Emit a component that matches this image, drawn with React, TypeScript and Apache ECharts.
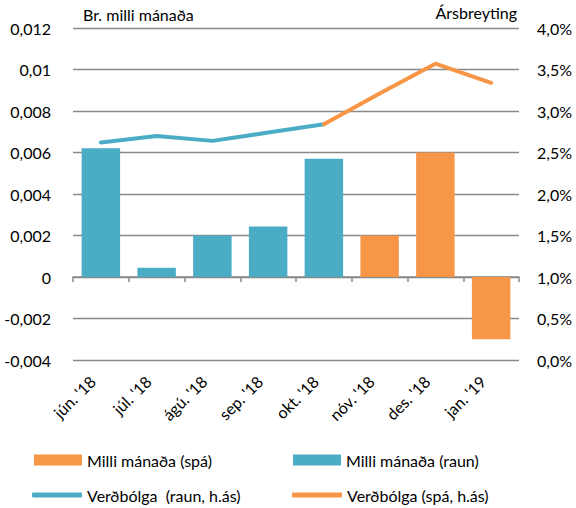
import React, { useEffect, useRef } from "react";
import * as echarts from "echarts";

const categories = ["jún. '18", "júl. '18", "ágú. '18", "sep. '18", "okt. '18", "nóv. '18", "des. '18", "jan. '19"];
const monthlyActual = [0.0062, 0.00045, 0.002, 0.00243, 0.0057, "-", "-", "-"];
const monthlyForecast = ["-", "-", "-", "-", "-", 0.002, 0.006, -0.003];
const inflationActual = [2.62, 2.7, 2.64, 2.74, 2.84, "-", "-", "-"];
const inflationForecast = ["-", "-", "-", "-", 2.84, 3.21, 3.57, 3.34];

const BLUE = "#4BACC6";
const ORANGE = "#F79646";
const FONT = "Lato";

export default function App() {
  const ref = useRef<HTMLDivElement>(null);
  useEffect(() => {
    if (!ref.current) return;
    const chart = echarts.init(ref.current, null, { renderer: "svg" });
    const textStyle = { fontFamily: FONT, fontSize: 16, color: "#000" };
    const legendBase = { padding: 0, itemGap: 5, textStyle: { ...textStyle } };
    chart.setOption({
      animation: false,
      textStyle: { fontFamily: FONT },
      grid: { left: 73, right: 57, top: 28, bottom: 148 },
      graphic: [
        { type: "text", left: 83, top: 6, style: { text: "Br. milli mánaða", font: `16px ${FONT}`, fill: "#000" } },
        { type: "text", right: 59, top: 4, style: { text: "Ársbreyting", font: `16px ${FONT}`, fill: "#000" } },
      ],
      legend: [
        { ...legendBase, left: 34, top: 452, itemWidth: 48, itemHeight: 11, icon: "rect", data: ["Milli mánaða (spá)"] },
        { ...legendBase, left: 293, top: 452, itemWidth: 48, itemHeight: 11, icon: "rect", data: ["Milli mánaða (raun)"] },
        { ...legendBase, left: 32, top: 487, itemWidth: 50, itemHeight: 5, icon: "roundRect", data: ["Verðbólga  (raun, h.ás)"] },
        { ...legendBase, left: 292, top: 487, itemWidth: 50, itemHeight: 5, icon: "roundRect", data: ["Verðbólga (spá, h.ás)"] },
      ],
      xAxis: [
        {
          type: "category",
          data: categories,
          position: "bottom",
          axisLine: { show: false, onZero: false },
          axisTick: { show: false },
          axisLabel: { ...textStyle, rotate: 45, margin: 10, padding: [0, 12, 0, 0], interval: 0 },
        },
        {
          type: "category",
          data: categories,
          position: "top",
          axisLine: { show: true, onZero: true, lineStyle: { color: "#898989", width: 1.5 } },
          axisTick: { show: true, inside: true, length: 5, lineStyle: { color: "#898989", width: 1.5 } },
          axisLabel: { show: false },
        },
      ],
      yAxis: [
        {
          type: "value",
          min: -0.004,
          max: 0.012,
          interval: 0.002,
          axisLine: { show: false },
          axisTick: { show: false },
          axisLabel: {
            ...textStyle,
            margin: 22,
            formatter: (v: number) => String(parseFloat(v.toFixed(3))).replace(".", ","),
          },
          splitLine: { show: true, lineStyle: { color: "#898989", width: 1.3 } },
        },
        {
          type: "value",
          min: 0,
          max: 4,
          interval: 0.5,
          position: "right",
          axisLine: { show: false },
          axisTick: { show: false },
          axisLabel: {
            ...textStyle,
            margin: 18,
            formatter: (v: number) => v.toFixed(1).replace(".", ",") + "%",
          },
          splitLine: { show: false },
        },
      ],
      series: [
        {
          name: "Milli mánaða (raun)",
          type: "bar",
          data: monthlyActual,
          barWidth: "69%",
          barGap: "-100%",
          itemStyle: { color: BLUE },
        },
        {
          name: "Milli mánaða (spá)",
          type: "bar",
          data: monthlyForecast,
          barWidth: "69%",
          barGap: "-100%",
          itemStyle: { color: ORANGE },
        },
        {
          name: "Verðbólga  (raun, h.ás)",
          type: "line",
          yAxisIndex: 1,
          data: inflationActual,
          symbol: "none",
          lineStyle: { color: BLUE, width: 4, cap: "round", join: "round" },
          itemStyle: { color: BLUE },
        },
        {
          name: "Verðbólga (spá, h.ás)",
          type: "line",
          yAxisIndex: 1,
          data: inflationForecast,
          symbol: "none",
          lineStyle: { color: ORANGE, width: 4, cap: "round", join: "round" },
          itemStyle: { color: ORANGE },
        },
      ],
    });
    return () => chart.dispose();
  }, []);
  return <div ref={ref} style={{ width: 576, height: 508, position: "absolute", left: 0, top: 0 }} />;
}
